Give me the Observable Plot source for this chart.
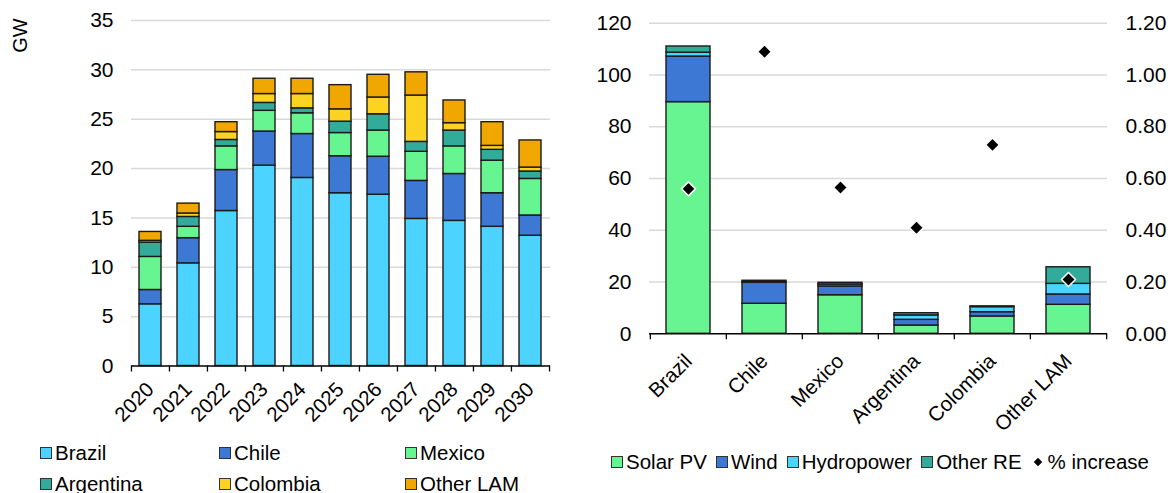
<!DOCTYPE html>
<html><head><meta charset="utf-8">
<script src="https://cdn.jsdelivr.net/npm/d3@7"></script>
<script src="https://cdn.jsdelivr.net/npm/@observablehq/plot@0.6"></script>
<style>
body{margin:0;background:#fff;font-family:"Liberation Sans",Arial,sans-serif;}
#wrap{position:relative;width:1170px;height:493px;overflow:hidden;background:#fff;}
#left{position:absolute;left:0;top:0;}
#right{position:absolute;left:570px;top:0;}
.legend{position:absolute;font-size:20.5px;color:#000;line-height:1;}
#legL{left:40px;top:443px;display:grid;grid-template-columns:179px 186px 180px;row-gap:10px;}
#legR{left:611px;top:452px;display:flex;gap:9px;}
.item{display:flex;align-items:center;white-space:nowrap;}
.sw{width:10px;height:10px;border:1px solid #333;margin-right:3px;flex:none;}
.dia{width:6px;height:6px;background:#000;transform:rotate(45deg);margin:0 7px 0 4px;flex:none;}
</style></head><body>
<div id="wrap">
 <div id="left"></div><div id="right"></div>
 <div id="legL" class="legend"></div><div id="legR" class="legend"></div>
</div>
<script>
// ---- Left chart data (GW) ----
const years = ["2020","2021","2022","2023","2024","2025","2026","2027","2028","2029","2030"];
const countryNames = ["Brazil","Chile","Mexico","Argentina","Colombia","Other LAM"];
const countryColors = ["#4DD3FF","#3C78D4","#66F591","#33AB9B","#FDD321","#F0A800"];
const brazilGW    = [6.25, 10.4, 15.7, 20.3, 19.05, 17.5, 17.35, 14.9, 14.7, 14.1, 13.2];
const chileGW     = [1.45, 2.55, 4.15, 3.45, 4.45, 3.75, 3.85, 3.85, 4.75, 3.4, 2.05];
const mexicoGW    = [3.35, 1.15, 2.4, 2.1, 2.1, 2.35, 2.65, 2.95, 2.8, 3.3, 3.7];
const argentinaGW = [1.45, 1.0, 0.65, 0.8, 0.5, 1.15, 1.65, 1.0, 1.6, 1.1, 0.75];
const colombiaGW  = [0.18, 0.35, 0.8, 0.9, 1.45, 1.25, 1.7, 4.7, 0.75, 0.4, 0.4];
const otherLamGW  = [0.9, 1.0, 1.0, 1.55, 1.55, 2.45, 2.3, 2.35, 2.3, 2.4, 2.75];
const yTicksLeft  = [0, 5, 10, 15, 20, 25, 30, 35];

// ---- Right chart data ----
const countries   = ["Brazil","Chile","Mexico","Argentina","Colombia","Other LAM"];
const techNames   = ["Solar PV","Wind","Hydropower","Other RE"];
const techColors  = ["#66F591","#3C78D4","#4DD3FF","#33AB9B"];
const solarPV     = [89.5, 11.6, 14.9, 3.2, 6.7, 11.2];
const wind        = [17.6, 8.1, 3.4, 2.2, 1.65, 4.0];
const hydropower  = [1.5, 0.3, 0.75, 1.7, 1.95, 4.1];
const otherRE     = [2.4, 0.5, 0.65, 0.85, 0.3, 6.4];
const pctIncrease = [0.56, 1.09, 0.565, 0.41, 0.73, 0.21];
const yTicksRight = [0, 20, 40, 60, 80, 100, 120];

const FONT = "Liberation Sans, Arial, sans-serif";

// Build tidy tables
const leftSeries = [brazilGW, chileGW, mexicoGW, argentinaGW, colombiaGW, otherLamGW];
const leftData = [];
countryNames.forEach((c, si) => years.forEach((y, i) => leftData.push({year: y, country: c, value: leftSeries[si][i]})));
const rightSeries = [solarPV, wind, hydropower, otherRE];
const rightData = [];
techNames.forEach((t, si) => countries.forEach((c, i) => rightData.push({country: c, tech: t, value: rightSeries[si][i]})));
const pctData = countries.map((c, i) => ({country: c, pct: pctIncrease[i]}));

// ---- Left plot ----
const LW = 570, LH = 440, LML = 131, LMR = 20;
const stepL = (LW - LML - LMR) / years.length;
const leftPlot = Plot.plot({
  width: LW, height: LH,
  marginLeft: LML, marginRight: LMR, marginTop: 20, marginBottom: 74.5,
  style: {fontFamily: FONT, fontSize: "20px", color: "#000", background: "transparent", overflow: "visible"},
  x: {type: "band", domain: years, paddingInner: 0.42, paddingOuter: 0.21, label: null},
  y: {domain: [0, 35], label: null},
  color: {domain: countryNames, range: countryColors},
  marks: [
    Plot.gridY(yTicksLeft.filter(d => d > 0), {stroke: "#d9d9d9", strokeWidth: 1.5, strokeOpacity: 1}),
    Plot.barY(leftData, {x: "year", y: "value", fill: "country", stroke: "#1a1a1a", strokeWidth: 1.4}),
    Plot.ruleY([0], {stroke: "#000", strokeWidth: 1.5}),
    Plot.ruleX(years, {x: d => d, y1: 0, y2: 0, insetBottom: -6, dx: -stepL / 2, stroke: "#000", strokeWidth: 1.3}),
    Plot.ruleX(years.slice(-1), {x: d => d, y1: 0, y2: 0, insetBottom: -6, dx: stepL / 2, stroke: "#000", strokeWidth: 1.3}),
    Plot.axisY(yTicksLeft, {tickSize: 0, tickPadding: 18, fontSize: 21, label: null}),
    Plot.axisX({tickSize: 0, tickRotate: -45, tickPadding: 20, fontSize: 20.5, label: null}),
    Plot.text(["GW"], {frameAnchor: "top-left", rotate: -90, dx: -111, dy: 15, fontSize: 20, textAnchor: "middle", lineAnchor: "middle"})
  ]
});
document.getElementById("left").appendChild(leftPlot);

// ---- Right plot ----
const RW = 600, RH = 440, RML = 79, RMR = 63;
const stepR = (RW - RML - RMR) / countries.length;
const rightPlot = Plot.plot({
  width: RW, height: RH,
  marginLeft: RML, marginRight: RMR, marginTop: 22.7, marginBottom: 106.7,
  style: {fontFamily: FONT, fontSize: "20px", color: "#000", background: "transparent", overflow: "visible"},
  x: {type: "band", domain: countries, paddingInner: 0.42, paddingOuter: 0.21, label: null},
  y: {domain: [0, 120], label: null},
  color: {domain: techNames, range: techColors},
  marks: [
    Plot.gridY(yTicksRight.filter(d => d > 0), {stroke: "#d9d9d9", strokeWidth: 1.5, strokeOpacity: 1}),
    Plot.barY(rightData, {x: "country", y: "value", fill: "tech", stroke: "#1a1a1a", strokeWidth: 1.4}),
    Plot.ruleY([0], {stroke: "#000", strokeWidth: 1.5}),
    Plot.ruleX(countries, {x: d => d, y1: 0, y2: 0, insetBottom: -6, dx: -stepR / 2, stroke: "#000", strokeWidth: 1.3}),
    Plot.ruleX(countries.slice(-1), {x: d => d, y1: 0, y2: 0, insetBottom: -6, dx: stepR / 2, stroke: "#000", strokeWidth: 1.3}),
    Plot.dot(pctData, {x: "country", y: d => d.pct * 100, symbol: "diamond2", r: 6.3, fill: "#000", stroke: "#fff", strokeWidth: 1.5}),
    Plot.axisY(yTicksRight, {anchor: "left", tickSize: 0, tickPadding: 18, fontSize: 21, label: null}),
    Plot.axisY(yTicksRight, {anchor: "right", tickSize: 0, tickPadding: 18, fontSize: 21, label: null, tickFormat: d => (d / 100).toFixed(2)}),
    Plot.axisX({tickSize: 0, tickRotate: -45, tickPadding: 24, fontSize: 20.5, label: null})
  ]
});
document.getElementById("right").appendChild(rightPlot);

// ---- Legends ----
const legL = document.getElementById("legL");
countryNames.forEach((c, i) => {
  const it = document.createElement("div"); it.className = "item";
  it.innerHTML = `<span class="sw" style="background:${countryColors[i]}"></span><span>${c}</span>`;
  legL.appendChild(it);
});
const legR = document.getElementById("legR");
techNames.forEach((t, i) => {
  const it = document.createElement("div"); it.className = "item";
  it.innerHTML = `<span class="sw" style="background:${techColors[i]}"></span><span>${t}</span>`;
  legR.appendChild(it);
});
const itD = document.createElement("div"); itD.className = "item";
itD.innerHTML = `<span class="dia"></span><span>% increase</span>`;
legR.appendChild(itD);
</script>
</body></html>
